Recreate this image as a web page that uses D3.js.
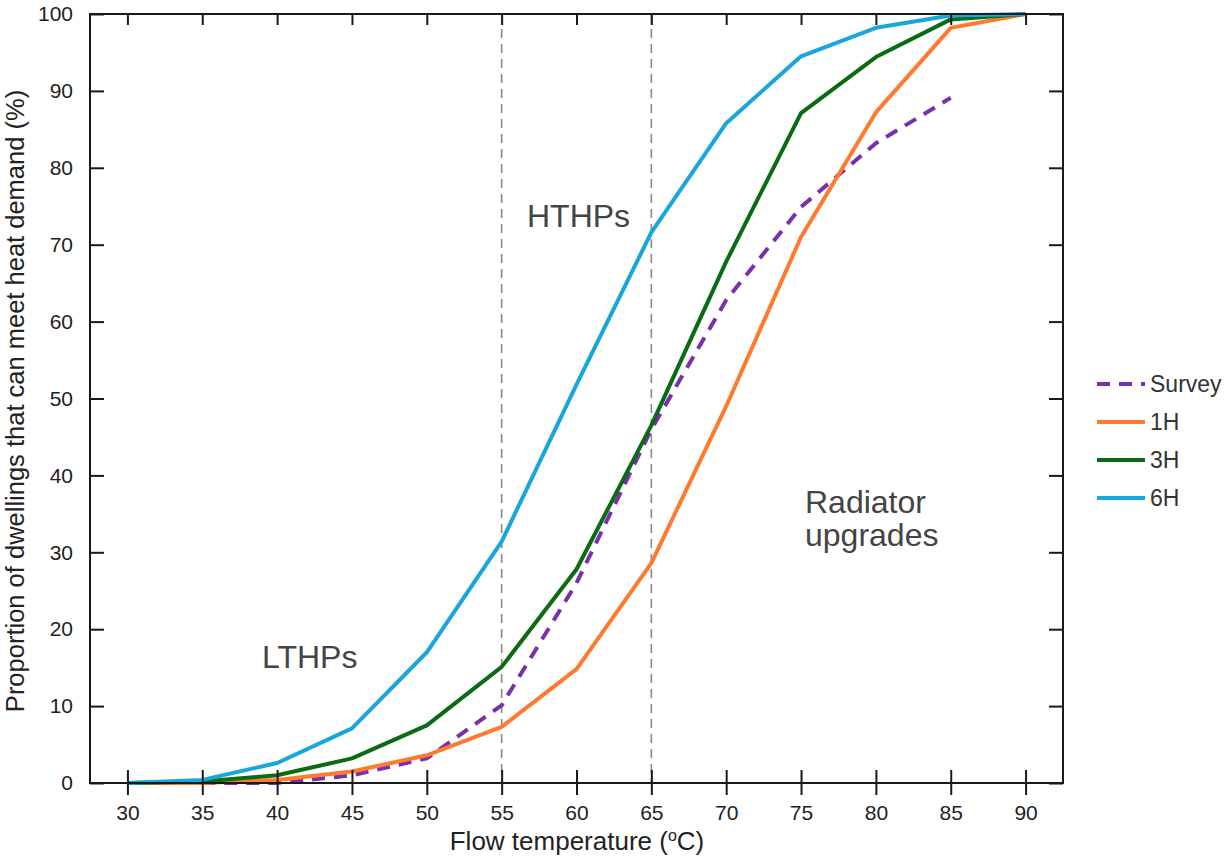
<!DOCTYPE html>
<html>
<head>
<meta charset="utf-8">
<script src="https://cdn.jsdelivr.net/npm/d3@7"></script>
<style>
  body { margin: 0; background: #fff; }
  text { font-family: "Liberation Sans", Arial, sans-serif; }
</style>
</head>
<body>
<div id="chart"></div>
<script>
// Daten
const temps = [30, 35, 40, 45, 50, 55, 60, 65, 70, 75, 80, 85, 90];
const h1 = [0, 0, 0.4, 1.5, 3.6, 7.3, 14.8, 28.6, 49, 71, 87.2, 98.2, 100];
const h3 = [0, 0.2, 1.0, 3.2, 7.5, 15.1, 27.8, 46.5, 67.8, 87.1, 94.4, 99.3, 100];
const h6 = [0, 0.4, 2.6, 7.1, 17.0, 31.4, 51.8, 71.6, 85.8, 94.5, 98.2, 99.8, 100];
const surveyTemps = [35, 40, 45, 50, 55, 60, 65, 70, 75, 80, 85];
const surveyVals = [0, 0, 1.0, 3.2, 10.1, 26, 46, 62.8, 74.9, 83.2, 89.1];
const yTicks = [0, 10, 20, 30, 40, 50, 60, 70, 80, 90, 100];
const dividers = [55, 65];

const series = [
  { name: "Survey", x: surveyTemps, y: surveyVals, color: "#7a2fae", dash: "13,9", width: 4 },
  { name: "1H", x: temps, y: h1, color: "#ff7a2f", dash: null, width: 4 },
  { name: "3H", x: temps, y: h3, color: "#0b6b12", dash: null, width: 4 },
  { name: "6H", x: temps, y: h6, color: "#18a6dc", dash: null, width: 4 }
];

const W = 1229, H = 859;
const plot = { left: 90, right: 1063, top: 14, bottom: 783 };

const svg = d3.select("#chart").append("svg")
  .attr("width", W)
  .attr("height", H);

const x = d3.scaleLinear().domain([27.5, 92.5]).range([plot.left, plot.right]);
const y = d3.scaleLinear().domain([0, 100]).range([plot.bottom, plot.top]);

// Trennlinien (gestrichelt)
svg.selectAll(".divider")
  .data(dividers)
  .enter().append("line")
  .attr("x1", d => x(d)).attr("x2", d => x(d))
  .attr("y1", plot.top).attr("y2", plot.bottom)
  .attr("stroke", "#8a8a8a")
  .attr("stroke-width", 1.6)
  .attr("stroke-dasharray", "9,6");

// Linien
const line = d3.line().x(d => x(d[0])).y(d => y(d[1]));
series.forEach(s => {
  svg.append("path")
    .datum(s.x.map((t, i) => [t, s.y[i]]))
    .attr("fill", "none")
    .attr("stroke", s.color)
    .attr("stroke-width", s.width)
    .attr("stroke-linejoin", "round")
    .attr("stroke-dasharray", s.dash)
    .attr("d", line);
});

// Achsen
const xAxis = svg.append("g")
  .attr("transform", `translate(0,${plot.bottom})`)
  .call(d3.axisBottom(x).tickValues(temps).tickSize(12).tickPadding(10));
xAxis.select(".domain").remove();
xAxis.selectAll(".tick line").attr("y1", -13).attr("stroke", "#1a1a1a").attr("stroke-width", 2);
xAxis.selectAll(".tick text").attr("font-size", 21).attr("fill", "#222")
  .attr("font-family", "Liberation Sans, Arial, sans-serif");

const yAxis = svg.append("g")
  .attr("transform", `translate(${plot.left},0)`)
  .call(d3.axisLeft(y).tickValues(yTicks).tickSize(10).tickPadding(7));
yAxis.select(".domain").remove();
yAxis.selectAll(".tick line").attr("x2", 14).attr("stroke", "#1a1a1a").attr("stroke-width", 2);
yAxis.selectAll(".tick text").attr("font-size", 21).attr("fill", "#222")
  .attr("font-family", "Liberation Sans, Arial, sans-serif");

// obere und rechte Ticks (nach innen)
const topAxis = svg.append("g")
  .attr("transform", `translate(0,${plot.top})`)
  .call(d3.axisTop(x).tickValues(temps).tickSize(-11).tickFormat(""));
topAxis.select(".domain").remove();
topAxis.selectAll(".tick line").attr("stroke", "#1a1a1a").attr("stroke-width", 2);

const rightAxis = svg.append("g")
  .attr("transform", `translate(${plot.right},0)`)
  .call(d3.axisRight(y).tickValues(yTicks).tickSize(-14).tickFormat(""));
rightAxis.select(".domain").remove();
rightAxis.selectAll(".tick line").attr("stroke", "#1a1a1a").attr("stroke-width", 2);

// Rahmen
svg.append("rect")
  .attr("x", plot.left).attr("y", plot.top)
  .attr("width", plot.right - plot.left).attr("height", plot.bottom - plot.top)
  .attr("fill", "none").attr("stroke", "#1a1a1a").attr("stroke-width", 2);

// Achsentitel
const xt = svg.append("text")
  .attr("x", 577).attr("y", 850)
  .attr("text-anchor", "middle").attr("font-size", 26).attr("fill", "#222");
xt.append("tspan").text("Flow temperature (");
xt.append("tspan").attr("font-size", 16).attr("dy", -9).text("o");
xt.append("tspan").attr("dy", 9).text("C)");

svg.append("text")
  .attr("transform", `translate(24,401) rotate(-90)`)
  .attr("text-anchor", "middle").attr("font-size", 25.5).attr("fill", "#222")
  .text("Proportion of dwellings that can meet heat demand (%)");

// Beschriftungen im Diagramm
const notes = [
  { text: "LTHPs", x: 262, y: 668 },
  { text: "HTHPs", x: 527, y: 227 },
  { text: "Radiator", x: 805, y: 513 },
  { text: "upgrades", x: 805, y: 546 }
];
svg.selectAll(".note")
  .data(notes)
  .enter().append("text")
  .attr("x", d => d.x).attr("y", d => d.y)
  .attr("font-size", 32).attr("fill", "#444")
  .text(d => d.text);

// Legende
const legend = svg.append("g").attr("transform", "translate(1097,384)");
series.forEach((s, i) => {
  const g = legend.append("g").attr("transform", `translate(0,${i * 38})`);
  g.append("line")
    .attr("x1", 0).attr("x2", 48)
    .attr("stroke", s.color).attr("stroke-width", s.width)
    .attr("stroke-dasharray", s.dash);
  g.append("text")
    .attr("x", 53).attr("dy", "0.36em")
    .attr("font-size", 23).attr("fill", "#333")
    .text(s.name);
});
</script>
</body>
</html>
